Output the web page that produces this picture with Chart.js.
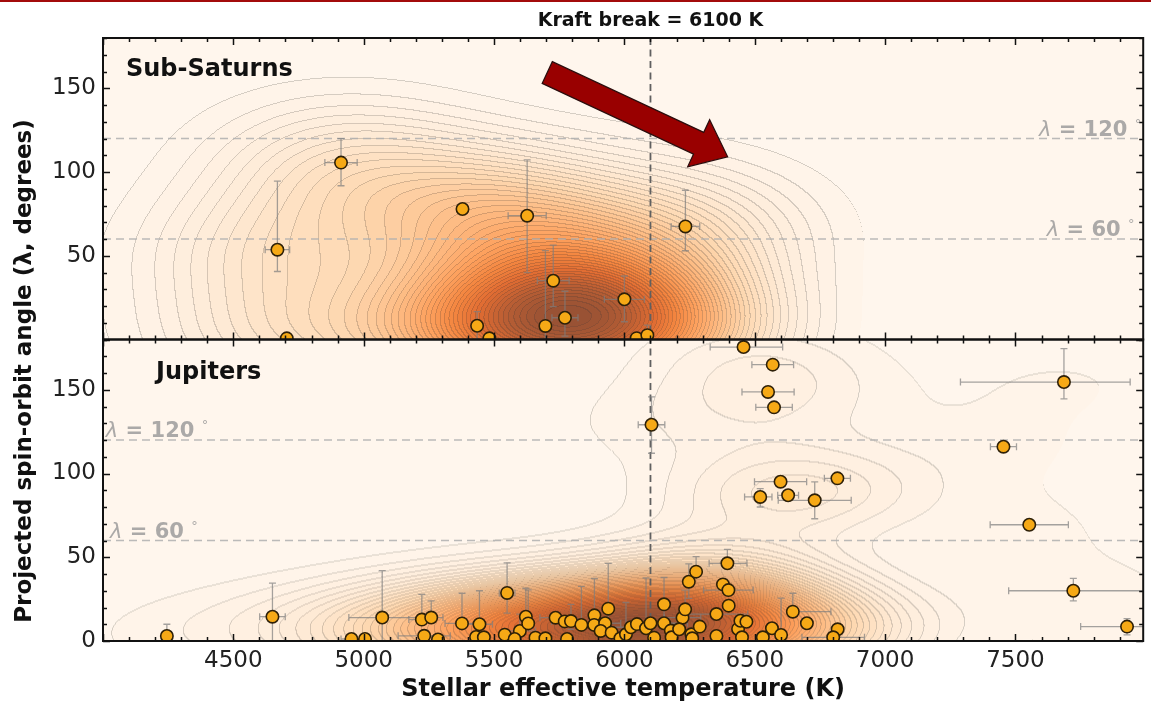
<!DOCTYPE html>
<html><head><meta charset="utf-8">
<script src="https://cdn.jsdelivr.net/npm/chart.js@4/dist/chart.umd.min.js"></script>
<style>
html,body{margin:0;padding:0;background:#fff;overflow:hidden}
#wrap{position:relative;width:1151px;height:706px}
#topline{position:absolute;left:0;top:0;width:1151px;height:2px;background:#a30b0b}
canvas{display:block}
</style></head><body>
<div id="wrap"><canvas id="c" width="1151" height="706"></canvas><div id="topline"></div></div>
<script>
// ---------------- DATA ----------------
const satT   = [4669, 4705, 4913, 5379, 5435, 5482, 5627, 5697, 5727, 5772, 6000, 6047, 6088, 6234];
const satL   = [53.6, 0.7, 105.6, 77.9, 8.2, 0.7, 73.9, 8.1, 35.1, 13.0, 24.0, 0.8, 2.6, 67.5];
const satTLo = [47, 0, 62, 0, 20, 0, 73, 0, 61, 50, 77, 0, 0, 55];
const satTHi = [47, 0, 62, 0, 20, 0, 73, 0, 61, 50, 77, 0, 0, 55];
const satLLo = [13, 0, 13.8, 0, 8, 0, 34, 8, 15.5, 11, 13.4, 0, 2.6, 14.5];
const satLHi = [41, 0, 14.3, 0, 8.4, 0, 33.3, 45, 21.3, 15.8, 13.9, 0, 6, 21.6];

const jupT = [
  4245, 4650, 4953, 5005, 5071, 5223, 5259, 5232, 5285, 5377,
  5444, 5431, 5461, 5550, 5541, 5599, 5622, 5631, 5579, 5659,
  5697, 5736, 5771, 5795, 5835, 5780, 5885, 5884, 5926, 5909,
  5938, 5951, 5985, 6006, 6025, 6048, 6083, 6100, 6114, 6152,
  6152, 6178, 6181, 6223, 6233, 6247, 6210, 6257, 6275, 6260,
  6289, 6353, 6353, 6378, 6399, 6395, 6400, 6436, 6445, 6468,
  6451, 6531, 6566, 6601, 6646, 6700, 6818, 6801, 6457, 6569,
  6551, 6574, 6104, 6599, 6817, 6521, 6628, 6730, 7686, 7454,
  7553, 7722, 7928];
const jupL = [
  3.0, 14.5, 1.2, 1.2, 14.0, 12.8, 14.0, 3.1, 0.9, 10.5,
  10.0, 2.4, 2.2, 28.7, 3.8, 6.0, 14.5, 10.5, 1.2, 2.0,
  1.6, 13.9, 11.7, 11.9, 9.6, 1.2, 15.3, 9.6, 10.6, 6.0,
  19.3, 5.0, 1.6, 4.0, 8.2, 10.1, 7.6, 10.6, 2.0, 21.9,
  10.6, 6.2, 2.2, 13.9, 18.9, 35.4, 7.0, 4.0, 41.4, 1.6,
  8.6, 16.1, 3.0, 33.8, 30.4, 46.4, 21.1, 7.2, 12.1, 11.5,
  2.2, 2.2, 7.6, 3.6, 17.5, 10.6, 7.0, 2.2, 175.5, 165.0,
  148.7, 139.5, 129.1, 95.1, 97.1, 86.0, 87.0, 84.0, 154.6, 116.0,
  69.4, 30.0, 8.6];
const jupTLo = [
  0, 49, 40, 0, 128, 50, 45, 100, 0, 65,
  50, 0, 0, 30, 0, 60, 0, 0, 0, 0,
  0, 60, 50, 0, 0, 0, 0, 50, 60, 0,
  0, 0, 0, 0, 80, 0, 0, 60, 0, 0,
  90, 0, 0, 70, 0, 0, 0, 0, 0, 0,
  0, 120, 0, 0, 95, 70, 0, 0, 0, 0,
  0, 0, 0, 0, 0, 0, 0, 120, 128, 80,
  100, 70, 51, 100, 50, 60, 40, 140, 397, 50,
  150, 248, 178];
const jupTHi = [
  0, 49, 40, 0, 148, 50, 45, 100, 0, 65,
  50, 0, 0, 30, 0, 60, 0, 0, 0, 0,
  0, 60, 50, 0, 0, 0, 0, 50, 60, 0,
  0, 0, 0, 0, 80, 0, 0, 60, 0, 0,
  90, 0, 0, 70, 0, 0, 0, 0, 0, 0,
  0, 120, 0, 0, 95, 75, 0, 0, 0, 0,
  0, 0, 0, 0, 146, 0, 0, 120, 150, 80,
  100, 70, 51, 100, 50, 45, 40, 140, 254, 50,
  150, 300, 150];
const jupLLo = [
  3, 14.5, 0, 0, 14, 0, 0, 0, 0, 0,
  0, 0, 0, 12, 0, 0, 6, 0, 0, 0,
  0, 0, 0, 5, 0, 0, 5, 0, 0, 0,
  8, 0, 0, 0, 0, 0, 0, 0, 0, 8,
  0, 0, 0, 0, 0, 10, 0, 0, 0, 0,
  0, 0, 0, 0, 0, 0, 0, 0, 0, 0,
  0, 0, 0, 0, 0, 0, 0, 0, 0, 3,
  0, 3, 17, 0, 0, 6, 0, 11, 10, 0,
  0, 6, 5];
const jupLHi = [
  7, 20, 0, 0, 28, 15, 10, 0, 0, 18,
  20, 0, 0, 18, 0, 10, 17, 20, 0, 0,
  0, 0, 0, 10, 23, 0, 22, 0, 0, 0,
  27, 0, 0, 19, 0, 0, 30, 0, 0, 16,
  0, 0, 0, 0, 11.5, 10.6, 0, 0, 9, 0,
  0, 0, 0, 0, 0, 8.3, 0, 0, 0, 0,
  0, 0, 0, 22, 11, 0, 0, 0, 0, 3,
  0, 3, 16.6, 0, 0, 5, 0, 11, 20, 0,
  0, 7.4, 4.7];

const xTickLabels = [4500, 5000, 5500, 6000, 6500, 7000, 7500];
const yTickLabels = [0, 50, 100, 150];
const kraftBreak = 6100;
const refAngles = [60, 120];

// ---------------- HELPERS ----------------
const FONT = "'DejaVu Sans', sans-serif";
const ORANGES = [[255,245,235],[254,230,206],[253,208,162],[253,174,107],[253,141,60],[241,105,19],[217,72,1],[166,54,3],[127,39,4]];
function oranges(v){
  v = Math.max(0, Math.min(1, v));
  const p = v * (ORANGES.length - 1), i = Math.min(ORANGES.length - 2, Math.floor(p)), f = p - i;
  const a = ORANGES[i], b = ORANGES[i+1];
  return [a[0]+(b[0]-a[0])*f, a[1]+(b[1]-a[1])*f, a[2]+(b[2]-a[2])*f];
}

function buildKDE(chart, ys, T, L, bx, by, levels, alpha, gamma){
  const a = chart.chartArea, xs = chart.scales.x;
  const w = Math.round(a.right - a.left), h = Math.round(ys.bottom - ys.top);
  const n = T.length;
  const kx = new Float64Array(w*n), ky = new Float64Array(h*n);
  for (let c=0;c<w;c++){ const t = xs.getValueForPixel(a.left + c + 0.5);
    for (let i=0;i<n;i++){ const d=(t-T[i])/bx; kx[c*n+i]=Math.exp(-0.5*d*d); } }
  for (let r=0;r<h;r++){ const l = ys.getValueForPixel(ys.top + r + 0.5);
    for (let i=0;i<n;i++){ const d=(l-L[i])/by; ky[r*n+i]=Math.exp(-0.5*d*d); } }
  const dens = new Float64Array(w*h); let max = 0;
  for (let r=0;r<h;r++){ const ro=r*n;
    for (let c=0;c<w;c++){ const co=c*n; let s=0;
      for (let i=0;i<n;i++) s += kx[co+i]*ky[ro+i];
      dens[r*w+c]=s; if (s>max) max=s; } }
  const lev = new Int16Array(w*h);
  for (let k=0;k<w*h;k++) lev[k] = Math.min(levels-1, Math.floor(Math.pow(dens[k]/max, gamma)*levels));
  const cv = document.createElement('canvas'); cv.width=w; cv.height=h;
  const cx = cv.getContext('2d'); const img = cx.createImageData(w,h);
  for (let r=0;r<h;r++) for (let c=0;c<w;c++){
    const k=r*w+c, L0=lev[k];
    let col = oranges(L0/(levels-1));
    const edge = (c>0 && lev[k-1]!==L0) || (r>0 && lev[k-w]!==L0);
    if (edge && L0>0){ const m=0.8; col=[col[0]*m,col[1]*m,col[2]*m]; }
    const o=k*4;
    img.data[o]  = col[0]*alpha + 255*(1-alpha);
    img.data[o+1]= col[1]*alpha + 252*(1-alpha);
    img.data[o+2]= col[2]*alpha + 246*(1-alpha);
    img.data[o+3]= 255;
  }
  cx.putImageData(img,0,0);
  return cv;
}

function drawErrors(ctx, xs, ys, T, L, tLo, tHi, lLo, lHi){
  ctx.save();
  ctx.strokeStyle='rgba(125,125,125,0.7)'; ctx.lineWidth=1.3; ctx.setLineDash([]);
  const cap=3.5;
  for (let i=0;i<T.length;i++){
    const x=xs.getPixelForValue(T[i]), y=ys.getPixelForValue(L[i]);
    if (tLo[i]||tHi[i]){
      const x1=xs.getPixelForValue(T[i]-tLo[i]), x2=xs.getPixelForValue(T[i]+tHi[i]);
      ctx.beginPath(); ctx.moveTo(x1,y); ctx.lineTo(x2,y);
      ctx.moveTo(x1,y-cap); ctx.lineTo(x1,y+cap); ctx.moveTo(x2,y-cap); ctx.lineTo(x2,y+cap); ctx.stroke();
    }
    if (lLo[i]||lHi[i]){
      const y1=ys.getPixelForValue(L[i]-lLo[i]), y2=ys.getPixelForValue(L[i]+lHi[i]);
      ctx.beginPath(); ctx.moveTo(x,y1); ctx.lineTo(x,y2);
      ctx.moveTo(x-cap,y1); ctx.lineTo(x+cap,y1); ctx.moveTo(x-cap,y2); ctx.lineTo(x+cap,y2); ctx.stroke();
    }
  }
  ctx.restore();
}

function drawLambdaLabel(ctx, x, y, val){
  ctx.save();
  ctx.fillStyle='rgba(150,150,150,0.8)';
  ctx.textBaseline='alphabetic'; ctx.textAlign='left';
  ctx.font = "italic 21px 'DejaVu Sans', sans-serif";
  ctx.fillText('λ', x, y); let w = ctx.measureText('λ').width;
  ctx.font = "bold 21px 'DejaVu Sans', sans-serif";
  const s = ' = ' + val + ' ';
  ctx.fillText(s, x+w, y); w += ctx.measureText(s).width;
  ctx.font = "13px 'DejaVu Sans', sans-serif";
  ctx.fillText('°', x+w, y-8);
  ctx.restore();
}

function drawArrow(ctx, x0, y0, x1, y1, shaftW, headW, headL){
  const dx=x1-x0, dy=y1-y0, len=Math.hypot(dx,dy), ux=dx/len, uy=dy/len, px=-uy, py=ux;
  const bx=x1-ux*headL, by=y1-uy*headL;
  ctx.save();
  ctx.beginPath();
  ctx.moveTo(x0+px*shaftW/2, y0+py*shaftW/2);
  ctx.lineTo(bx+px*shaftW/2, by+py*shaftW/2);
  ctx.lineTo(bx+px*headW/2, by+py*headW/2);
  ctx.lineTo(x1, y1);
  ctx.lineTo(bx-px*headW/2, by-py*headW/2);
  ctx.lineTo(bx-px*shaftW/2, by-py*shaftW/2);
  ctx.lineTo(x0-px*shaftW/2, y0-py*shaftW/2);
  ctx.closePath();
  ctx.fillStyle='#990000'; ctx.fill();
  ctx.strokeStyle='#2b0d0d'; ctx.lineWidth=1.2; ctx.stroke();
  ctx.restore();
}

// ---------------- PLUGIN ----------------
const panelPlugin = {
  id:'panels',
  beforeDatasetsDraw(chart){
    const ctx=chart.ctx, a=chart.chartArea, xs=chart.scales.x;
    const yT=chart.scales.yTop, yB=chart.scales.yBot;
    if (!chart.$kde){
      chart.$kde = {
        top: buildKDE(chart, yT, satT, satL, 360, 28, 48, 0.8, 1.12),
        bot: buildKDE(chart, yB, jupT, jupL, 330, 19, 48, 0.8, 1.1)
      };
    }
    ctx.drawImage(chart.$kde.top, a.left, yT.top);
    ctx.drawImage(chart.$kde.bot, a.left, yB.top);
    ctx.save();
    ctx.strokeStyle='rgba(175,175,175,0.85)'; ctx.lineWidth=1.5; ctx.setLineDash([8,5]);
    for (const ys of [yT,yB]) for (const v of refAngles){
      const y=ys.getPixelForValue(v); ctx.beginPath(); ctx.moveTo(a.left,y); ctx.lineTo(a.right,y); ctx.stroke();
    }
    ctx.strokeStyle='#606060'; ctx.lineWidth=1.8; ctx.setLineDash([7,4.5]);
    const kx=xs.getPixelForValue(kraftBreak);
    ctx.beginPath(); ctx.moveTo(kx,a.top); ctx.lineTo(kx,a.bottom); ctx.stroke();
    ctx.restore();
    for (const [ys, arr] of [[yT,[satT,satL,satTLo,satTHi,satLLo,satLHi]],[yB,[jupT,jupL,jupTLo,jupTHi,jupLLo,jupLHi]]]){
      ctx.save(); ctx.beginPath(); ctx.rect(a.left, ys.top, a.right-a.left, ys.bottom-ys.top); ctx.clip();
      drawErrors(ctx, xs, ys, ...arr);
      ctx.restore();
    }
  },
  beforeDatasetDraw(chart, args){
    const ys=args.meta.yScale, a=chart.chartArea, ctx=chart.ctx;
    ctx.save(); ctx.beginPath(); ctx.rect(a.left, ys.top, a.right-a.left, ys.bottom-ys.top); ctx.clip();
  },
  afterDatasetDraw(chart){ chart.ctx.restore(); },
  afterDatasetsDraw(chart){
    const ctx=chart.ctx, a=chart.chartArea, xs=chart.scales.x;
    const yT=chart.scales.yTop, yB=chart.scales.yBot;
    ctx.save();
    ctx.strokeStyle='#111'; ctx.lineWidth=1.5; ctx.setLineDash([]);
    for (const ys of [yT,yB]){
      ctx.beginPath();
      for (let t=4000; t<=xs.max; t+=100){
        const px=Math.round(xs.getPixelForValue(t))+0.5, len=(t%500===0)?7:4;
        ctx.moveTo(px,ys.top); ctx.lineTo(px,ys.top+len);
        ctx.moveTo(px,ys.bottom); ctx.lineTo(px,ys.bottom-len);
      }
      for (let l=0; l<=180; l+=10){
        const py=Math.round(ys.getPixelForValue(l))+0.5, len=(l%50===0)?7:4;
        ctx.moveTo(a.left,py); ctx.lineTo(a.left+len,py);
        ctx.moveTo(a.right,py); ctx.lineTo(a.right-len,py);
      }
      ctx.stroke();
    }
    ctx.lineWidth=2; ctx.strokeStyle='#111';
    for (const ys of [yT,yB]) ctx.strokeRect(a.left, ys.top, a.right-a.left, ys.bottom-ys.top);
    ctx.fillStyle='#111'; ctx.textBaseline='alphabetic'; ctx.textAlign='left';
    ctx.font="bold 24px "+FONT;
    ctx.fillText('Sub-Saturns', a.left+23, yT.top+38);
    ctx.fillText('Jupiters', a.left+53, yB.top+39);
    drawLambdaLabel(ctx, xs.getPixelForValue(7590), yT.getPixelForValue(121.5), 120);
    drawLambdaLabel(ctx, xs.getPixelForValue(7620), yT.getPixelForValue(61.5), 60);
    drawLambdaLabel(ctx, xs.getPixelForValue(4011), yB.getPixelForValue(121.5), 120);
    drawLambdaLabel(ctx, xs.getPixelForValue(4027), yB.getPixelForValue(61.5), 60);
    drawArrow(ctx, xs.getPixelForValue(5704), yT.getPixelForValue(159.4),
                   xs.getPixelForValue(6396), yT.getPixelForValue(109.1), 24, 52, 32);
    ctx.fillStyle='#111'; ctx.textAlign='center'; ctx.font="bold 19px "+FONT;
    ctx.fillText('Kraft break = '+kraftBreak+' K', xs.getPixelForValue(kraftBreak), 26);
    ctx.translate(25, 371); ctx.rotate(-Math.PI/2);
    ctx.textAlign='center'; ctx.textBaseline='middle'; ctx.font="bold 23px "+FONT;
    ctx.fillText('Projected spin-orbit angle (λ, degrees)', 0, 0);
    ctx.restore();
  }
};

// ---------------- CHART ----------------
const yTickCb = (hideZero) => (v) => (yTickLabels.includes(v) && !(hideZero && v===0)) ? String(v) : null;
const yAxis = (hideZero) => ({
  type:'linear', position:'left', stack:'panels', stackWeight:1, min:0, max:180,
  grid:{display:false, drawTicks:false}, border:{display:false},
  ticks:{stepSize:10, autoSkip:false, padding:7, color:'#222', font:{family:FONT, size:23}, callback: yTickCb(hideZero)},
  afterFit:(s)=>{ s.width=103; }
});

new Chart(document.getElementById('c'), {
  type:'scatter',
  data:{ datasets:[
    { label:'Jupiters', data: jupT.map((t,i)=>({x:t,y:jupL[i]})), xAxisID:'x', yAxisID:'yBot',
      pointRadius:6.2, pointHoverRadius:6.2, pointBackgroundColor:'#f6a916', pointBorderColor:'#2e2008', pointBorderWidth:1.6 },
    { label:'Sub-Saturns', data: satT.map((t,i)=>({x:t,y:satL[i]})), xAxisID:'x', yAxisID:'yTop',
      pointRadius:6.2, pointHoverRadius:6.2, pointBackgroundColor:'#f6a916', pointBorderColor:'#2e2008', pointBorderWidth:1.6 }
  ]},
  options:{
    responsive:false, animation:false, devicePixelRatio:1,
    layout:{padding:{left:0, right:4, top:38, bottom:0}},
    plugins:{legend:{display:false}, title:{display:false}, tooltip:{enabled:false}},
    scales:{
      x:{ type:'linear', position:'bottom', min:4000, max:7990,
          grid:{display:false, drawTicks:false}, border:{display:false},
          afterBuildTicks:(s)=>{ s.ticks = xTickLabels.map(v=>({value:v})); },
          ticks:{autoSkip:false, maxRotation:0, padding:6, color:'#222', font:{family:FONT, size:23},
                 callback:(v)=> String(v)},
          title:{display:true, text:'Stellar effective temperature (K)', color:'#111',
                 font:{family:FONT, size:24, weight:'bold'}, padding:{top:0, bottom:2}},
          afterFit:(s)=>{ s.height=65; } },
      yBot: yAxis(false),
      yTop: yAxis(true)
    }
  },
  plugins:[panelPlugin]
});
</script>
</body></html>
